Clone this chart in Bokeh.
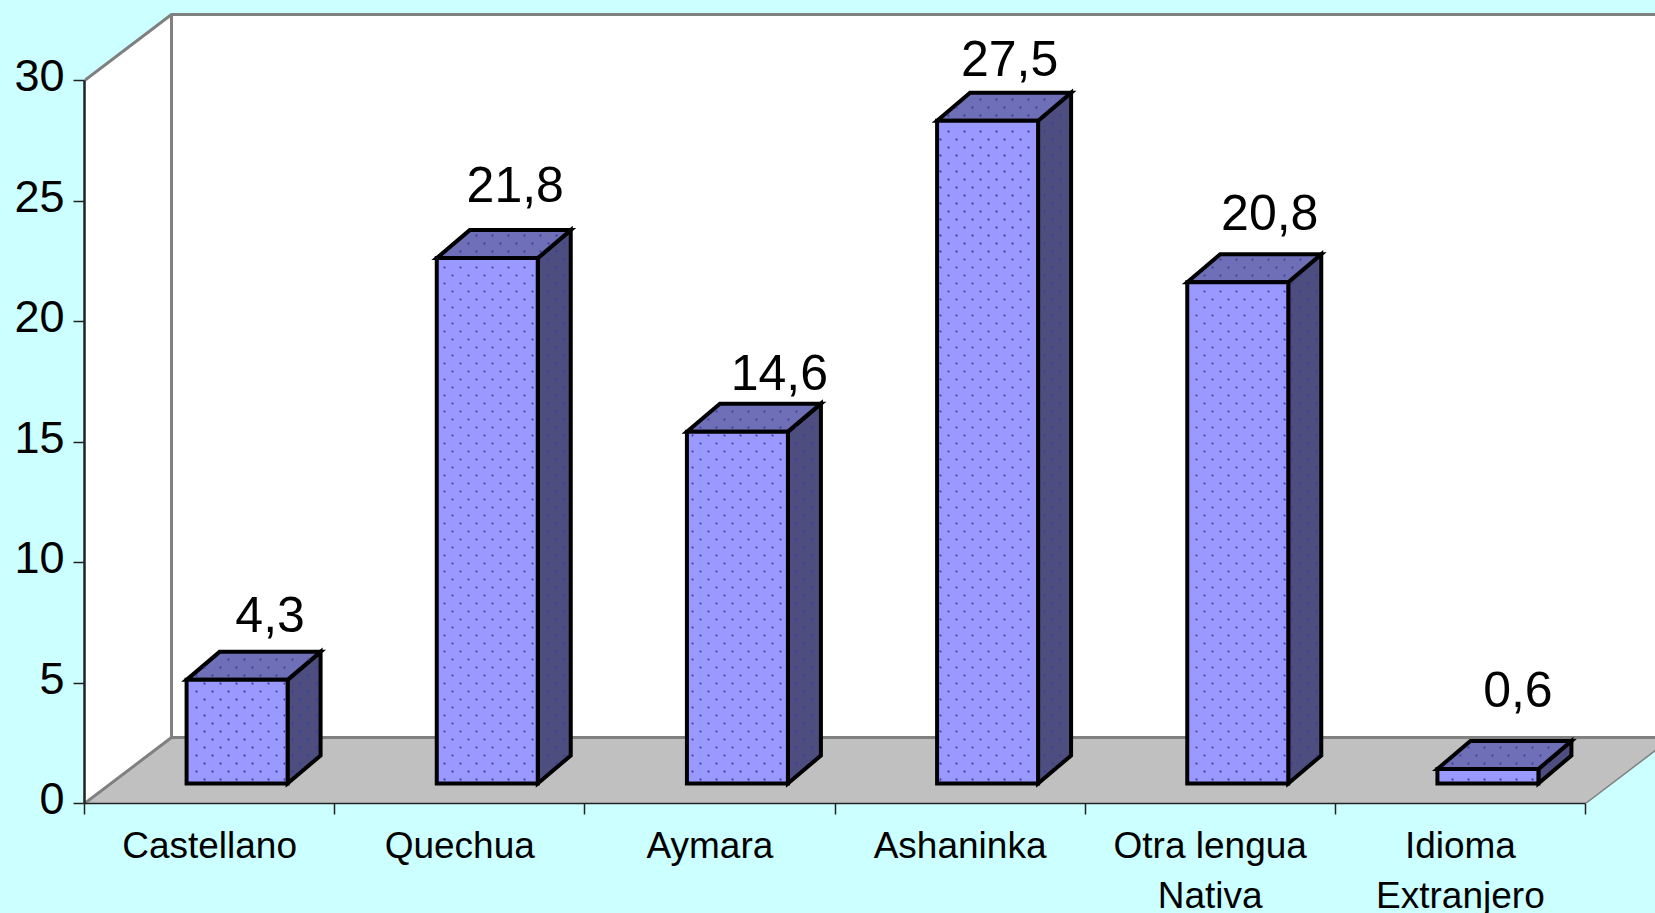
from bokeh.plotting import figure, ColumnDataSource
from bokeh.models import Range1d, LinearAxis, FixedTicker, AllLabels
from bokeh.core.properties import value
from bokeh.embed import file_html
from bokeh.resources import INLINE

categories = ["Castellano", "Quechua", "Aymara", "Ashaninka", "Otra lengua\nNativa", "Idioma\nExtranjero"]
values = [4.3, 21.8, 14.6, 27.5, 20.8, 0.6]
value_labels = ["4,3", "21,8", "14,6", "27,5", "20,8", "0,6"]
y_ticks = [0, 5, 10, 15, 20, 25, 30]

# styling
BG, FRONT, TOP, SIDE, FLOOR, WALL_LINE = "#CCFFFF", "#9999FF", "#6F6FB8", "#4D4D80", "#C0C0C0", "#808080"
DOT = "#3A3A98"
FONT = "Liberation Sans"
n = len(categories)
PX_X = 1501 / n      # px per category
PX_Y = 723 / 30      # px per value unit
WALL_DX, WALL_DY = 87 / PX_X, 66 / PX_Y
BAR_W = 101 / PX_X
BASE_DX, BASE_DY = 27.5 / PX_X, 20 / PX_Y
BAR_DX, BAR_DY = 33 / PX_X, 28 / PX_Y
label_dx = [33, 28, 42, 22, 32, 30]
label_gap = [37, 46, 31, 34, 42, 52]
LABEL_SHIFT = 5 / PX_Y
DOT_STEP_X, DOT_STEP_Y = 16 / PX_X, 8 / PX_Y
DOT_MARGIN_X, DOT_MARGIN_Y = 3 / PX_X, 3 / PX_Y


def face_dots(ox, oy, ax, ay, bx, by):
    """Texture dots of a staggered lattice that fall inside the parallelogram o + u*a + v*b."""
    det = ax * by - ay * bx
    xs, ys = [], []
    x_lo, x_hi = min(ox, ox + ax + bx, ox + ax, ox + bx), max(ox, ox + ax + bx, ox + ax, ox + bx)
    y_lo, y_hi = min(oy, oy + ay + by, oy + ay, oy + by), max(oy, oy + ay + by, oy + ay, oy + by)
    m = int(y_lo / DOT_STEP_Y)
    while m * DOT_STEP_Y <= y_hi:
        k = int(x_lo / DOT_STEP_X)
        while k * DOT_STEP_X <= x_hi:
            px = (k + 0.5 * (m % 2)) * DOT_STEP_X
            py = m * DOT_STEP_Y
            dx, dy = px - ox, py - oy
            u = (dx * by - dy * bx) / det
            v = (ax * dy - ay * dx) / det
            mu = max(DOT_MARGIN_X / max(abs(ax), 1e-9), 0.0) if abs(ax) > 1e-9 else 0.0
            mv = DOT_MARGIN_Y / abs(by) if abs(by) > 1e-9 else 0.0
            if mu < u < 1 - mu and mv < v < 1 - mv:
                xs.append(px); ys.append(py)
            k += 1
        m += 1
    return xs, ys


p = figure(
    width=1655, height=913, frame_width=1571, frame_height=803,
    min_border_left=84, min_border_right=0, min_border_top=0, min_border_bottom=110,
    x_range=Range1d(0, 1571 / PX_X), y_range=Range1d(0, 803 / PX_Y),
    x_axis_type=None, y_axis_type=None,
    toolbar_location=None, output_backend="svg",
    background_fill_color=BG, border_fill_color=BG, outline_line_color=None,
)
p.grid.visible = False
p.extra_y_ranges = {"labels": Range1d(-LABEL_SHIFT, 803 / PX_Y - LABEL_SHIFT)}

# walls and floor
top = y_ticks[-1]
p.patch([WALL_DX, n + WALL_DX, n + WALL_DX, WALL_DX],
        [WALL_DY, WALL_DY, top + WALL_DY, top + WALL_DY], fill_color="white", line_color=None)
p.patch([0, WALL_DX, WALL_DX, 0], [0, WALL_DY, top + WALL_DY, top], fill_color="white", line_color=None)
p.patch([0, n, n + WALL_DX, WALL_DX], [0, 0, WALL_DY, WALL_DY], fill_color=FLOOR, line_color=None)
p.line([0, WALL_DX, WALL_DX, n + WALL_DX], [top, top + WALL_DY, top + WALL_DY, top + WALL_DY],
       line_color=WALL_LINE, line_width=3)
p.line([0, WALL_DX, WALL_DX], [0, WALL_DY, top + WALL_DY], line_color=WALL_LINE, line_width=3)
p.line([WALL_DX, n + WALL_DX], [WALL_DY, WALL_DY], line_color=WALL_LINE, line_width=3)
p.line([n, n + WALL_DX], [0, WALL_DY], line_color=WALL_LINE, line_width=1.5)

# bars
fx, fy, tx, ty, sx, sy, dots_x, dots_y = [], [], [], [], [], [], [], []
for i, v in enumerate(values):
    l = i + 0.5 - BAR_W / 2 + BASE_DX
    r = l + BAR_W
    b, t = BASE_DY, BASE_DY + v
    fx.append([l, r, r, l]); fy.append([b, b, t, t])
    tx.append([l, r, r + BAR_DX, l + BAR_DX]); ty.append([t, t, t + BAR_DY, t + BAR_DY])
    sx.append([r, r + BAR_DX, r + BAR_DX, r]); sy.append([b, b + BAR_DY, t + BAR_DY, t])
    for face in ((l, b, BAR_W, 0, 0, v),
                 (l, t, BAR_W, 0, BAR_DX, BAR_DY),
                 (r, b, BAR_DX, BAR_DY, 0, v)):
        dx_, dy_ = face_dots(*face)
        dots_x += dx_
        dots_y += dy_

for xs, ys, col in ((sx, sy, SIDE), (tx, ty, TOP), (fx, fy, FRONT)):
    p.patches(xs, ys, fill_color=col, line_color="black", line_width=4, line_join="miter")
p.scatter(dots_x, dots_y, marker="square", size=1.8, fill_color=DOT, line_color=None)

# value labels
src = ColumnDataSource(dict(
    x=[i + 0.5 + BASE_DX for i in range(n)],
    y=[BASE_DY + v + BAR_DY for v in values],
    t=value_labels, dx=label_dx, gap=[-g for g in label_gap],
))
p.text("x", "y", text="t", source=src, x_offset="dx", y_offset="gap",
       text_font=value(FONT), text_font_size="50px", text_color="black",
       text_align="center", text_baseline="alphabetic")

# axes: line and ticks on the value range, labels on a range nudged up
yax = LinearAxis(ticker=FixedTicker(ticks=y_ticks), bounds=(0, top))
yax.axis_line_color = "#222222"
yax.axis_line_width = 2.5
yax.major_tick_line_color = "#222222"
yax.major_tick_line_width = 1.5
yax.major_tick_in = 0
yax.major_tick_out = 11
yax.minor_tick_line_color = None
yax.major_label_standoff = 0
yax.major_label_text_font_size = "0px"
yax.major_label_text_color = None
p.add_layout(yax, "left")

ylab = LinearAxis(y_range_name="labels", ticker=FixedTicker(ticks=y_ticks))
ylab.axis_line_color = None
ylab.major_tick_line_color = None
ylab.minor_tick_line_color = None
ylab.major_tick_in = 0
ylab.major_tick_out = 0
ylab.major_label_standoff = 9
ylab.major_label_text_font = FONT
ylab.major_label_text_font_size = "45px"
ylab.major_label_text_color = "black"
p.add_layout(ylab, "left")

centers = [i + 0.5 for i in range(n)]
xax = LinearAxis(ticker=FixedTicker(ticks=centers, minor_ticks=list(range(n + 1))), bounds=(0, n))
xax.major_label_overrides = dict(zip(centers, categories))
xax.major_label_policy = AllLabels()
xax.axis_line_color = "#222222"
xax.axis_line_width = 1.5
xax.major_tick_line_color = None
xax.major_tick_in = 0
xax.major_tick_out = 0
xax.minor_tick_line_color = "#222222"
xax.minor_tick_line_width = 1.5
xax.minor_tick_in = 0
xax.minor_tick_out = 11
xax.major_label_standoff = 10
xax.major_label_text_font = FONT
xax.major_label_text_font_size = "37px"
xax.major_label_text_color = "black"
xax.major_label_text_line_height = 1.22
p.add_layout(xax, "below")

html = file_html(p, INLINE)
html = html.replace("</head>", "<style>html,body{margin:0;padding:0;overflow:hidden;background:%s}</style></head>" % BG, 1)
open("out.html", "w").write(html)
